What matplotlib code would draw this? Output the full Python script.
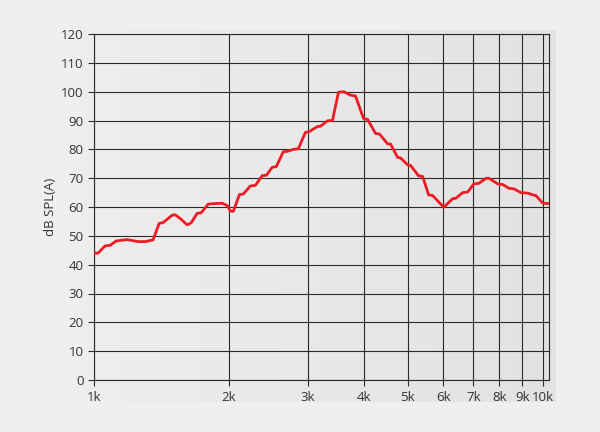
import numpy as np
import matplotlib.pyplot as plt
from matplotlib.ticker import FixedLocator, NullLocator
from matplotlib.colors import LinearSegmentedColormap

# frequency (Hz) and level (dB SPL(A))
freq = [1000, 1021, 1058, 1086, 1120, 1185, 1254, 1300, 1354, 1397, 1426, 1494, 1517, 1556,
        1613, 1646, 1698, 1733, 1797, 1863, 1931, 1981, 2012, 2044, 2108, 2151, 2230, 2288,
        2371, 2421, 2496, 2548, 2641, 2696, 2781, 2853, 2958, 3004, 3147, 3194, 3313, 3398,
        3505, 3596, 3728, 3825, 3985, 4068, 4239, 4327, 4510, 4580, 4748, 4822, 4996, 5074,
        5287, 5397, 5566, 5682, 6013, 6297, 6395, 6630, 6802, 7016, 7197, 7461, 7577, 7935,
        8142, 8397, 8616, 8932, 9259, 9499, 9647, 10000, 10260]
spl = [44.0, 44.0, 46.5, 46.7, 48.2, 48.7, 48.0, 48.0, 48.6, 54.3, 54.6, 57.2, 57.3, 56.0,
       53.8, 54.5, 57.8, 58.0, 61.0, 61.2, 61.3, 60.5, 58.6, 58.5, 64.3, 64.5, 67.3, 67.5,
       70.9, 71.0, 73.8, 74.0, 79.2, 79.3, 80.0, 80.2, 85.9, 86.0, 87.9, 88.0, 89.9, 90.0,
       99.8, 100.0, 98.8, 98.5, 90.7, 90.4, 85.5, 85.3, 81.9, 81.8, 77.2, 77.0, 74.6, 74.4,
       70.8, 70.6, 64.2, 64.0, 59.9, 62.9, 63.0, 65.0, 65.2, 68.0, 68.2, 69.9, 70.0, 68.0,
       67.8, 66.5, 66.3, 65.0, 64.8, 64.2, 64.0, 61.3, 61.2]

xticks = [1000, 2000, 3000, 4000, 5000, 6000, 7000, 8000, 9000, 10000]
xlabels = ['1k', '2k', '3k', '4k', '5k', '6k', '7k', '8k', '9k', '10k']
yticks = list(range(0, 121, 10))

plt.rcParams['font.family'] = ['Open Sans', 'DejaVu Sans']

fig = plt.figure(figsize=(6, 4.32), dpi=100, facecolor='#efefef')

# soft gray panel behind the plot
cmap = LinearSegmentedColormap.from_list('bg', ['#eeeeee', '#e2e2e2'])
grad = np.linspace(0, 1, 256).reshape(1, -1)
bg = fig.add_axes([80 / 600, 30 / 432, 476 / 600, 372 / 432], zorder=0)
bg.imshow(grad, cmap=cmap, aspect='auto', extent=[0, 1, 0, 1])
bg.axis('off')

ax = fig.add_axes([94 / 600, 52 / 432, 455 / 600, 346 / 432], zorder=1)
ax.set_facecolor('none')
ax.set_xscale('log')
ax.set_xlim(1000, 10320)
ax.set_ylim(0, 120)

ax.plot(freq, spl, color='#ed1c24', lw=2, solid_joinstyle='round', zorder=3)

ax.xaxis.set_major_locator(FixedLocator(xticks))
ax.xaxis.set_minor_locator(NullLocator())
ax.set_xticks(xticks)
ax.set_xticklabels(xlabels)
ax.set_yticks(yticks)
ax.grid(True, color='#2a2a2a', lw=0.8)
ax.set_axisbelow(True)
for s in ax.spines.values():
    s.set_color('#2a2a2a')
    s.set_linewidth(0.8)
ax.tick_params(axis='both', length=4, width=0.8, color='#2a2a2a',
               labelsize=9.5, labelcolor='#333333')
ax.tick_params(axis='x', pad=4)
ax.set_ylabel('dB SPL(A)', fontsize=9.5, color='#333333', labelpad=3)

fig.savefig('out.png', dpi=100, facecolor=fig.get_facecolor())
